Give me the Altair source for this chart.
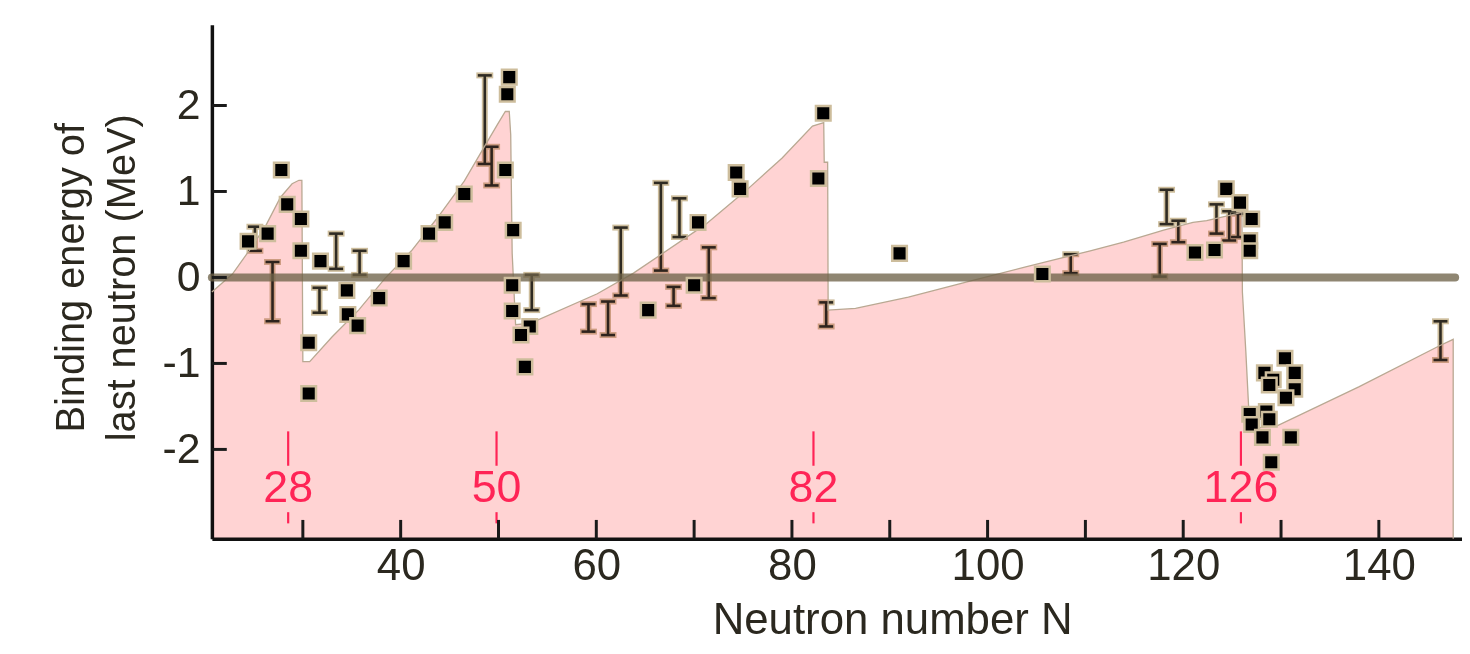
import altair as alt
import pandas as pd

# ---------------- data ----------------
# measured binding energies (black squares)
pts_n = [24.4, 26.4, 27.8, 28.4, 29.8, 29.8, 30.6, 30.6, 31.8, 34.5, 34.6, 35.6, 37.8,
         40.3, 42.9, 44.5, 46.5, 51.1, 50.9, 50.7, 51.5, 51.4, 51.4, 53.2, 52.3, 52.7,
         65.3, 70.0, 70.4, 74.3, 74.7, 82.7, 83.2, 91.0, 105.6,
         121.2, 123.2, 124.4, 125.8, 127.0, 126.8, 126.8,
         130.4, 128.3, 129.2, 131.4, 131.4, 130.5, 128.8, 126.8, 128.5, 128.8, 127.0,
         128.1, 131.0, 129.0]
pts_e = [0.42, 0.51, 1.25, 0.85, 0.68, 0.31, -0.76, -1.35, 0.19, -0.15, -0.43, -0.56, -0.24,
         0.19, 0.51, 0.64, 0.97, 2.33, 2.13, 1.25, 0.55, -0.09, -0.39, -0.57, -0.67, -1.04,
         -0.38, -0.09, 0.64, 1.22, 1.03, 1.15, 1.91, 0.28, 0.04,
         0.29, 0.32, 1.03, 0.87, 0.68, 0.43, 0.31,
         -0.94, -1.11, -1.19, -1.11, -1.30, -1.40, -1.25, -1.59, -1.56, -1.65, -1.71,
         -1.86, -1.86, -2.15]

# values with error bars
eb_n = [25.1, 26.9, 31.7, 33.4, 35.8, 48.6, 49.3, 53.4, 59.2, 61.2, 62.5, 66.6, 67.9,
        68.5, 71.5, 83.5, 108.5, 117.6, 118.3, 119.5, 123.4, 124.7, 125.6, 146.3]
eb_hi = [0.59, 0.18, -0.12, 0.51, 0.31, 2.35, 1.52, 0.03, -0.31, -0.28, 0.58, 1.10, -0.11,
         0.92, 0.35, -0.29, 0.27, 0.39, 1.02, 0.66, 0.85, 0.77, 0.74, -0.51]
eb_lo = [0.31, -0.51, -0.41, 0.10, 0.03, 1.32, 1.07, -0.38, -0.63, -0.67, -0.21, 0.08, -0.33,
         0.47, -0.24, -0.57, 0.05, 0.01, 0.62, 0.41, 0.51, 0.43, 0.47, -0.96]

# shell-model sawtooth (pink region upper boundary)
saw_n = [20.7, 22.8, 24.5, 26.2, 27.7, 28.9, 29.6, 29.9, 30.0, 30.7, 33.0, 35.7, 38.4,
         41.1, 43.8, 46.5, 48.5, 49.9, 50.7, 51.1, 51.25, 51.4, 51.75, 53.3, 60.1, 63.8,
         71.2, 75.3, 79.0, 82.1, 83.25, 83.3, 83.65, 83.7, 86.5, 91.9, 98.0, 103.8, 110.5,
         113.9, 118.0, 121.0, 122.4, 125.4, 126.0, 126.05, 126.4, 126.8, 129.7, 138.0,
         146.1, 147.6]
saw_e = [-0.17, 0.04, 0.31, 0.60, 0.93, 1.09, 1.13, 1.13, -0.98, -0.98, -0.69, -0.38, -0.01,
         0.31, 0.70, 1.12, 1.51, 1.78, 1.93, 1.93, 1.66, 0.28, -0.55, -0.53, -0.19, 0.05,
         0.62, 1.01, 1.39, 1.76, 1.80, 1.34, 1.34, -0.38, -0.36, -0.23, -0.05, 0.12, 0.31,
         0.41, 0.55, 0.64, 0.66, 0.74, 0.76, -0.17, -0.86, -1.76, -1.72, -1.27,
         -0.80, -0.72]

# magic numbers and where their markers sit
magic_labels = ["28", "50", "82", "126"]
magic_n = [28.5, 49.8, 82.2, 125.9]
magic_line = [-1.79, -2.19]
magic_text_y = -2.45
magic_dash = [-2.73, -2.86]

x_tick_vals = [30, 40, 50, 60, 70, 80, 90, 100, 110, 120, 130, 140]
x_label_vals = [40, 60, 80, 100, 120, 140]
y_tick_vals = [-2, -1, 0, 1, 2]
zero_span = [20.7, 147.8]

X_DOMAIN = [20.7, 148.5]
Y_DOMAIN = [-3.04, 2.94]

# ---------------- styling ----------------
FONT = "Liberation Sans"
TXT = "#2b281f"
HALO = "#cdbd9c"
DARK = "#2e2a22"
MAGIC = "#ff2456"

xs = alt.Scale(domain=X_DOMAIN, nice=False, zero=False)
ys = alt.Scale(domain=Y_DOMAIN, nice=False, zero=False)

x_axis = alt.Axis(values=x_label_vals, title="Neutron number N", ticks=False, grid=False,
                  domainColor="#111111", domainWidth=3.5, labelFont=FONT, labelFontSize=44,
                  labelColor=TXT, labelPadding=6, labelFlush=False,
                  labelExpr="'' + datum.value",
                  titleFont=FONT, titleFontSize=44, titleFontWeight="normal", titleColor=TXT,
                  titleX=684, titleY=82, titleAlign="center", titleBaseline="middle")
y_axis = alt.Axis(values=y_tick_vals, title=["Binding energy of", "last neutron (MeV)"],
                  ticks=False, grid=False, domainColor="#111111", domainWidth=3.5,
                  labelFont=FONT, labelFontSize=43, labelColor=TXT, labelPadding=12,
                  labelExpr="'' + datum.value",
                  titleFont=FONT, titleFontSize=40, titleFontWeight="normal", titleColor=TXT,
                  titleX=-141, titleY=254, titleAngle=270, titleAlign="center",
                  titleBaseline="middle", titleLineHeight=51)


def X(f):
    return alt.X(f, type="quantitative", scale=xs, axis=x_axis)


def Y(f):
    return alt.Y(f, type="quantitative", scale=ys, axis=y_axis)


pts = pd.DataFrame({"n": pts_n, "e": pts_e})
eb = pd.DataFrame({"n": eb_n, "hi": eb_hi, "lo": eb_lo})
saw = pd.DataFrame({"n": saw_n, "e": saw_e})
outline = pd.DataFrame({"n": saw_n + [saw_n[-1]], "e": saw_e + [Y_DOMAIN[0]],
                        "i": list(range(len(saw_n) + 1))})
zero = pd.DataFrame({"x1": [zero_span[0]], "x2": [zero_span[1]], "y": [0]})
magic = pd.DataFrame({"n": magic_n, "lab": magic_labels,
                      "l1": magic_line[0], "l2": magic_line[1], "t": magic_text_y,
                      "d1": magic_dash[0], "d2": magic_dash[1]})
xt = pd.DataFrame({"v": x_tick_vals, "y0": Y_DOMAIN[0]})
yt = pd.DataFrame({"v": y_tick_vals, "x0": X_DOMAIN[0]})

eb_halo = alt.Chart(eb).mark_rule(color=HALO, strokeWidth=6).encode(x=X("n"), y=Y("hi"), y2="lo")
eb_cap_hi_halo = alt.Chart(eb).mark_tick(orient="horizontal", size=17, thickness=6, color=HALO,
                                         opacity=1).encode(x=X("n"), y=Y("hi"))
eb_cap_lo_halo = alt.Chart(eb).mark_tick(orient="horizontal", size=17, thickness=6, color=HALO,
                                         opacity=1).encode(x=X("n"), y=Y("lo"))
eb_rule = alt.Chart(eb).mark_rule(color=DARK, strokeWidth=2.6).encode(x=X("n"), y=Y("hi"), y2="lo")
eb_cap_hi = alt.Chart(eb).mark_tick(orient="horizontal", size=14, thickness=2.6, color=DARK,
                                    opacity=1).encode(x=X("n"), y=Y("hi"))
eb_cap_lo = alt.Chart(eb).mark_tick(orient="horizontal", size=14, thickness=2.6, color=DARK,
                                    opacity=1).encode(x=X("n"), y=Y("lo"))

area = alt.Chart(saw).mark_area(color="#ffd3d3", opacity=1, blend="multiply").encode(
    x=X("n"), y=Y("e"), y2=alt.datum(Y_DOMAIN[0]))
area_line = alt.Chart(outline).mark_line(color="#b9a892", strokeWidth=1.3).encode(
    x=X("n"), y=Y("e"), order="i:Q")

zero_line = alt.Chart(zero).mark_rule(color="#6d6148", opacity=0.77, strokeWidth=8,
                                      strokeCap="round").encode(x=X("x1"), x2="x2", y=Y("y"))

points = alt.Chart(pts).mark_square(size=215, fill="#000000", stroke=HALO, strokeWidth=2.5,
                                    opacity=1).encode(x=X("n"), y=Y("e"))

magic_rule = alt.Chart(magic).mark_rule(color=MAGIC, strokeWidth=2.2).encode(
    x=X("n"), y=Y("l1"), y2="l2")
magic_dash_rule = alt.Chart(magic).mark_rule(color=MAGIC, strokeWidth=2.2).encode(
    x=X("n"), y=Y("d1"), y2="d2")
magic_text = alt.Chart(magic).mark_text(font=FONT, fontSize=45, color=MAGIC, align="center",
                                        baseline="middle").encode(
    x=X("n"), y=Y("t"), text="lab:N")

x_ticks = alt.Chart(xt).mark_tick(orient="vertical", size=19, thickness=3, yOffset=-9.5,
                                  color="#1a1a1a", opacity=1).encode(x=X("v"), y=Y("y0"))
y_ticks = alt.Chart(yt).mark_tick(orient="horizontal", size=15, thickness=3, xOffset=7.5,
                                  color="#1a1a1a", opacity=1).encode(x=X("x0"), y=Y("v"))

chart = alt.layer(
    eb_halo, eb_cap_hi_halo, eb_cap_lo_halo, eb_rule, eb_cap_hi, eb_cap_lo,
    area, area_line, zero_line, points, magic_rule, magic_dash_rule, magic_text,
    x_ticks, y_ticks
).properties(
    width=1257, height=517,
    padding={"left": 205, "top": 15, "right": 0, "bottom": 106},
    autosize="none",
    background="white",
).configure_view(strokeWidth=0)

chart.save("out.html", embed_options={"renderer": "svg", "actions": False})
